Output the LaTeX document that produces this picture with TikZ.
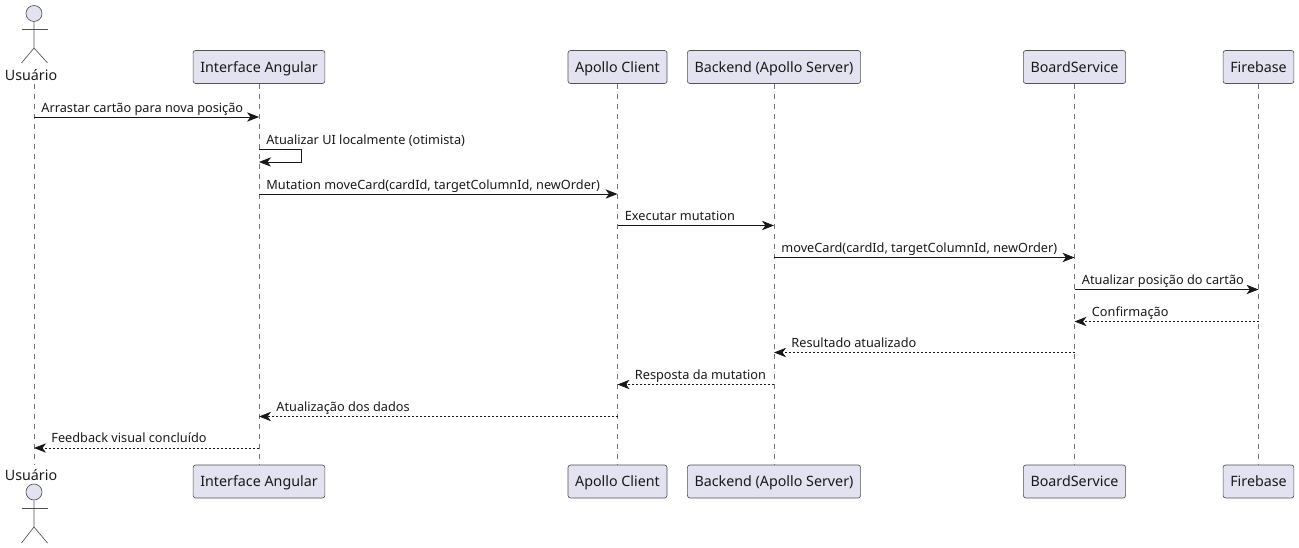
\documentclass[tikz,border=0pt]{standalone}
\usepackage{fontspec}
\setmainfont{Noto Sans}
\usetikzlibrary{arrows.meta}
\definecolor{partfill}{HTML}{E2E2F0}
\definecolor{partline}{HTML}{181818}
\tikzset{
  part/.style={draw=partline!75, fill=partfill, line width=0.5pt, rounded corners=1.9pt,
    minimum height=24.75pt, inner xsep=5.4pt, inner ysep=0pt, text=black!90,
    font=\fontsize{10.7}{12}\selectfont, text height=9.1pt, text depth=1.3pt},
  actorname/.style={inner sep=0pt, font=\fontsize{10.7}{12}\selectfont, text=black!90,
    text height=8pt, text depth=2.4pt},
  actorhead/.style={circle, draw=partline!75, fill=partfill, line width=0.5pt,
    minimum size=12pt, inner sep=0pt},
  actorbody/.style={draw=partline!75, line width=0.5pt},
  life/.style={draw=partline!60, line width=0.5pt, dash pattern=on 3.75pt off 3.75pt},
  call/.style={draw=partline, line width=0.6pt, -{Stealth[length=9pt,width=7pt,inset=2.6pt]}},
  back/.style={call, dash pattern=on 1.5pt off 1.5pt},
  msg/.style={inner sep=0pt, anchor=base west, text=black!90,
    font=\fontsize{9.55}{12}\selectfont},
  sendmsg/.style={msg, pos=0, xshift=5.25pt, yshift=3.7pt},
  backmsg/.style={msg, pos=1, xshift=12.75pt, yshift=3.8pt},
}
\begin{document}
\begin{tikzpicture}[x=0.75pt, y=0.75pt]
  \useasboundingbox (0,0) rectangle (1299,-548);
  % heads and feet of the lifelines
  \node[actorname] (user) at (31,-76.5) {Usuário};
  \node[part] (angular) at (259,-67) {Interface Angular};
  \node[part] (apollo) at (617.5,-67) {Apollo Client};
  \node[part] (backend) at (774,-67) {Backend (Apollo Server)};
  \node[part] (board) at (1074.5,-67) {BoardService};
  \node[part] (firebase) at (1258.5,-67) {Firebase};
  \node[actorname] (userb) at (31,-476.5) {Usuário};
  \node[part] (angularb) at (259,-481.5) {Interface Angular};
  \node[part] (apollob) at (617.5,-481.5) {Apollo Client};
  \node[part] (backendb) at (774,-481.5) {Backend (Apollo Server)};
  \node[part] (boardb) at (1074.5,-481.5) {BoardService};
  \node[part] (firebaseb) at (1258.5,-481.5) {Firebase};
  \node[actorhead] (head) at (34,-13.5) {};
  \node[actorhead] (headb) at (34,-492) {};
  % lifelines
  \draw[life] (head |- user.south) -- ([yshift=3pt]head |- userb.north);
  \draw[life] (angular) -- (angularb);
  \draw[life] (apollo) -- (apollob);
  \draw[life] (backend) -- (backendb);
  \draw[life] (board) -- (boardb);
  \draw[life] (firebase) -- (firebaseb);
  % actor figures
  \draw[actorbody] (head) -- (34,-48) -- (21.5,-63);
  \draw[actorbody] (34,-48) -- (47.5,-63);
  \draw[actorbody] (21.5,-29) -- (47.5,-29);
  \draw[actorbody] (headb) -- (34,-527) -- (21.5,-543);
  \draw[actorbody] (34,-527) -- (47.5,-543);
  \draw[actorbody] (21.5,-508) -- (47.5,-508);
  % messages
  \draw[call] (head |- 0,-117) -- (angular |- 0,-117)
    node[sendmsg] (m1) {Arrastar cartão para nova posição};
  \draw[call] (angular |- 0,-149.5) -- (301.5,-149.5) -- (301.5,-162) -- (angular |- 0,-162);
  \node[msg] (m2) at (266,-144.3) {Atualizar UI localmente (otimista)};
  \draw[call] (angular |- 0,-194) -- (apollo |- 0,-194)
    node[sendmsg] (m3) {Mutation moveCard(cardId, targetColumnId, newOrder)};
  \draw[call] (apollo |- 0,-225.5) -- (backend |- 0,-225.5)
    node[sendmsg] (m4) {Executar mutation};
  \draw[call] (backend |- 0,-257.5) -- (board |- 0,-257.5)
    node[sendmsg] (m5) {moveCard(cardId, targetColumnId, newOrder)};
  \draw[call] (board |- 0,-289.5) -- (firebase |- 0,-289.5)
    node[sendmsg] (m6) {Atualizar posição do cartão};
  \draw[back] (firebase |- 0,-321.5) -- (board |- 0,-321.5)
    node[backmsg] (m7) {Confirmação};
  \draw[back] (board |- 0,-352.5) -- (backend |- 0,-352.5)
    node[backmsg] (m8) {Resultado atualizado};
  \draw[back] (backend |- 0,-384.5) -- (apollo |- 0,-384.5)
    node[backmsg] (m9) {Resposta da mutation};
  \draw[back] (apollo |- 0,-416.5) -- (angular |- 0,-416.5)
    node[backmsg] (m10) {Atualização dos dados};
  \draw[back] (angular |- 0,-448) -- (head |- 0,-448)
    node[backmsg] (m11) {Feedback visual concluído};
\end{tikzpicture}
\end{document}
